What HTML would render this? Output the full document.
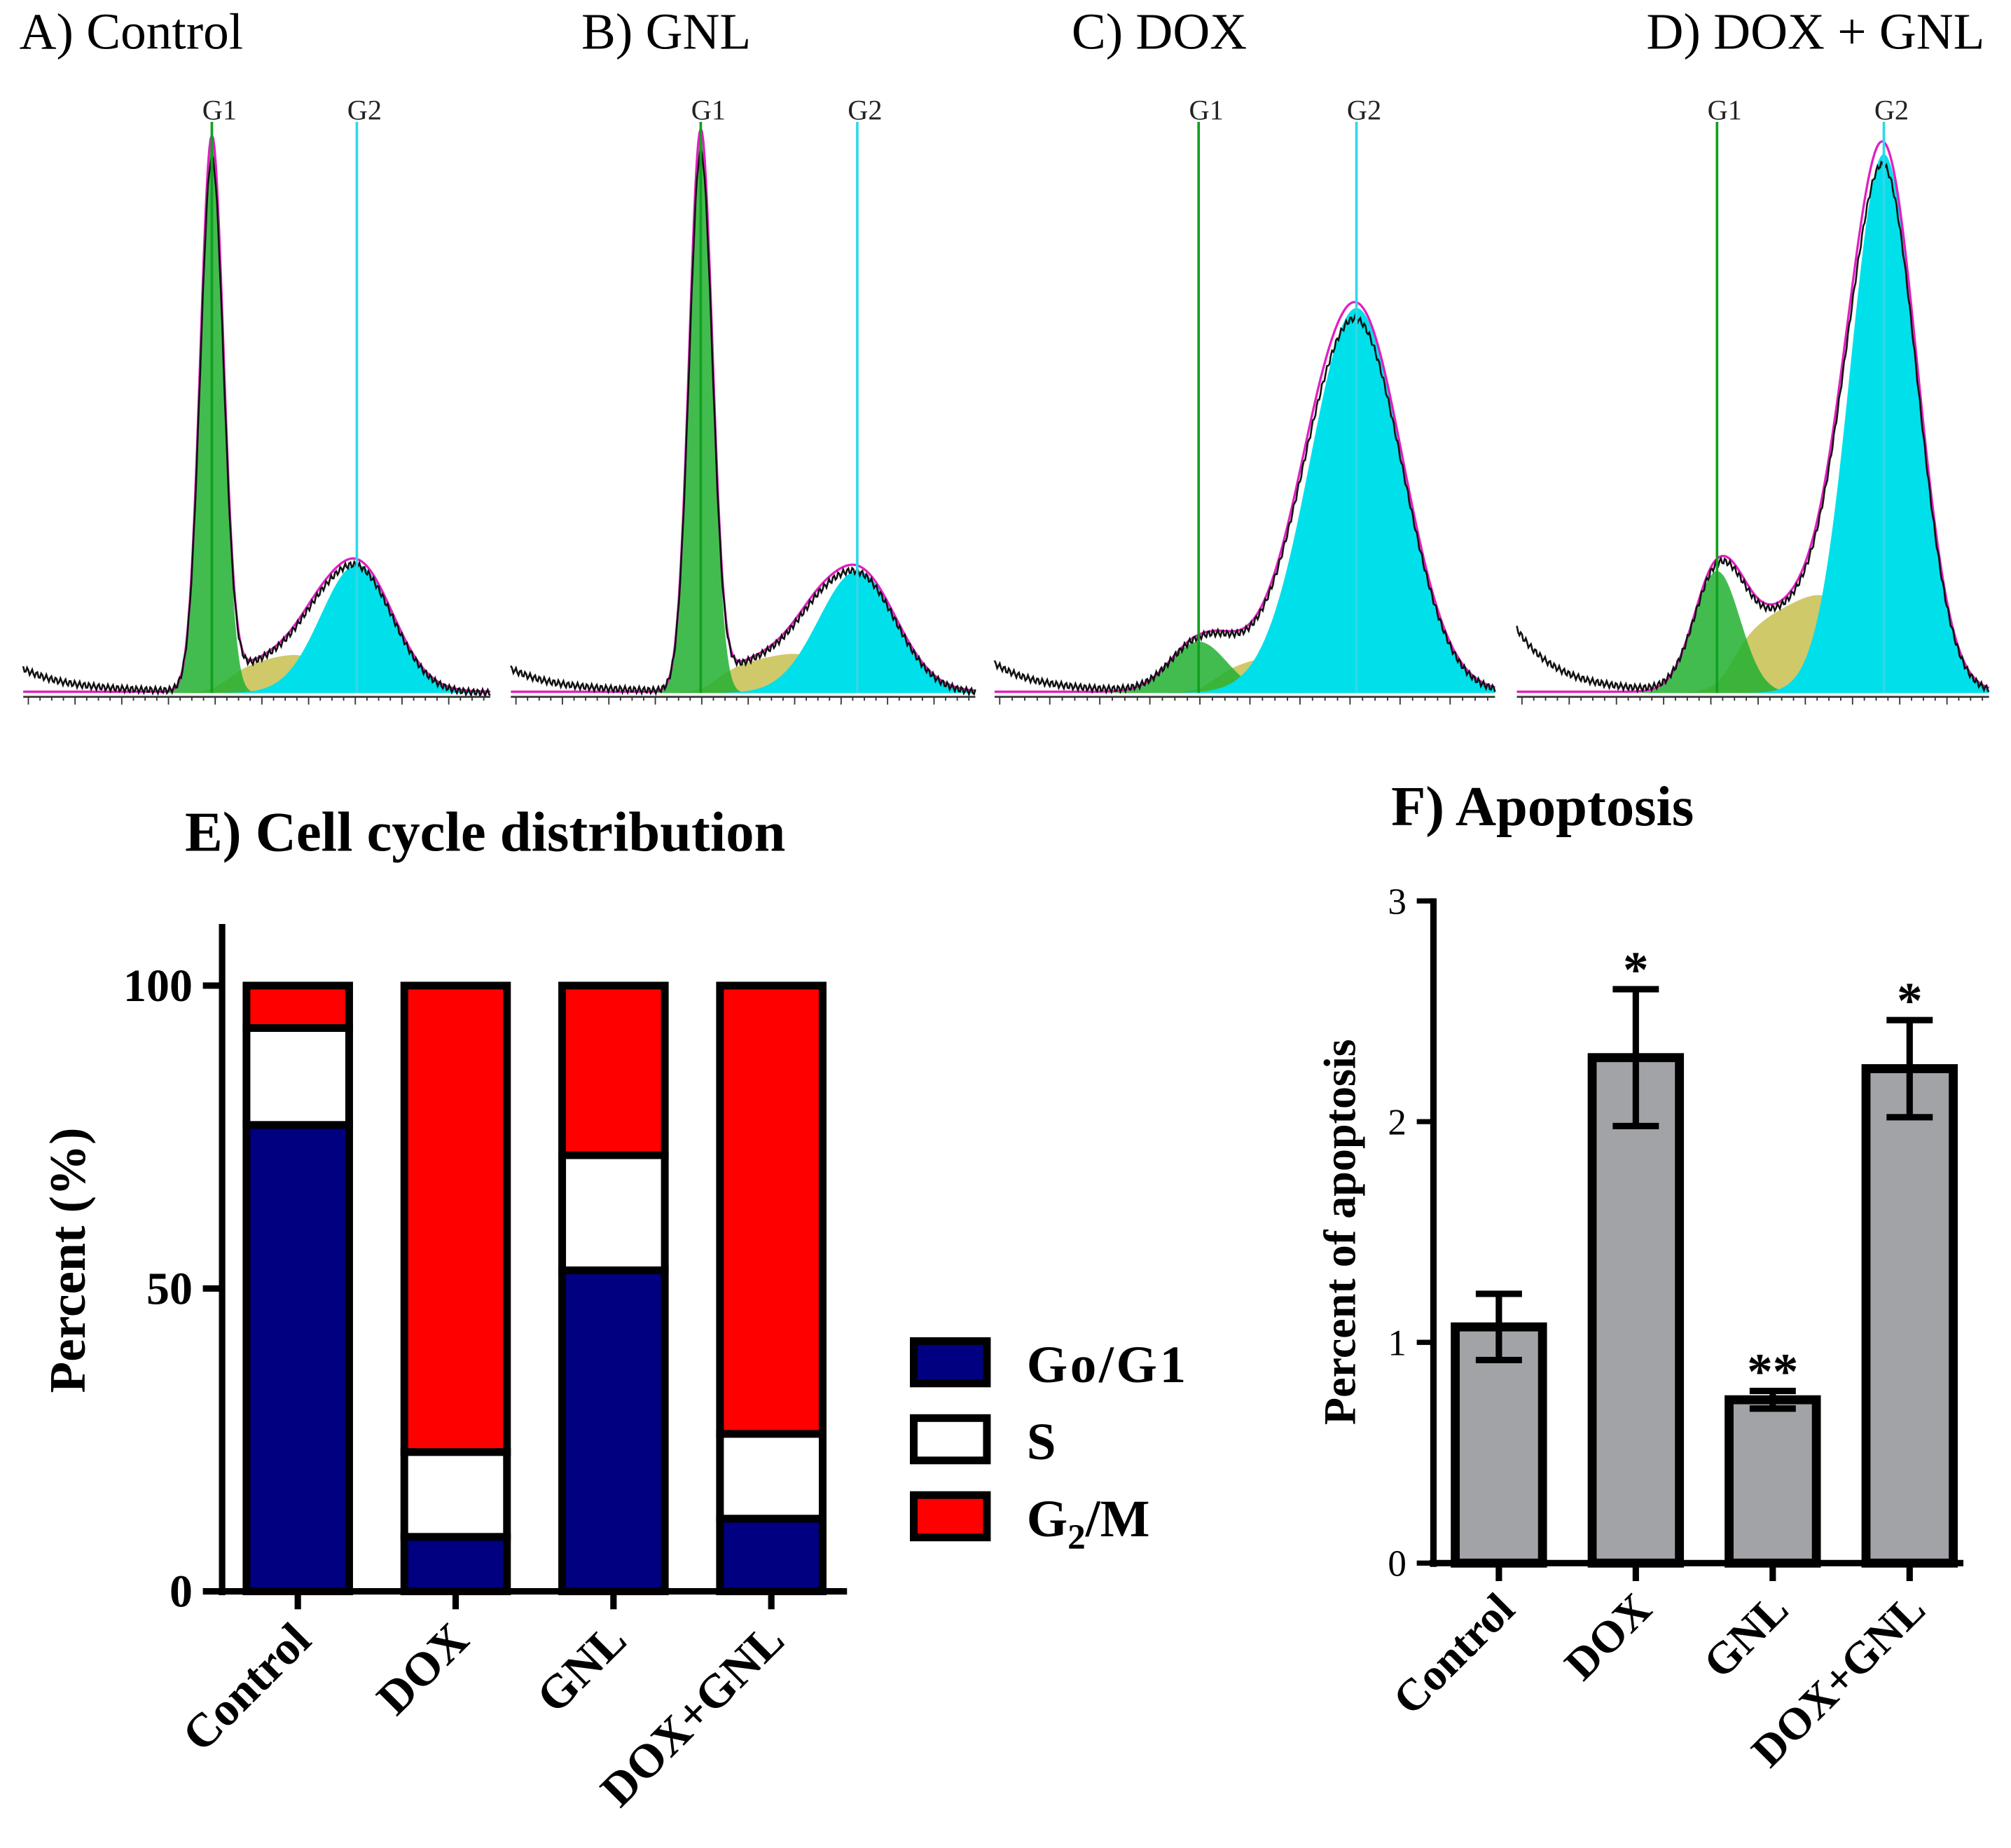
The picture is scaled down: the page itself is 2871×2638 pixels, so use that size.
<!DOCTYPE html>
<html><head><meta charset="utf-8"><style>
html,body{margin:0;padding:0;background:#fff}
svg{display:block}
text{font-family:"Liberation Serif",serif}
</style></head><body>
<svg id="fig" width="2871" height="2638" viewBox="0 0 1567 1440">
</svg>
<script>
// ---- flow histogram data (peak model params) ----
const histNames = ["A) Control","B) GNL","C) DOX","D) DOX + GNL"];
const g1Pos = [165, 546, 934, 1338];
const g1Height = [430, 435, 40, 95];
const g1Width = [9, 9, 22, 18];
const g2Pos = [278, 668, 1057, 1468];
const g2Height = [100, 95, 300, 420];
const g2Width = [28, 30, 36, 26];
const sHeight = [45, 45, 45, 110];
const debris = [14, 14, 18, 45];
// ---- E data ----
const eCats = ["Control","DOX","GNL","DOX+GNL"];
const eG1 = [77, 9, 53, 12];
const eS = [16, 14, 19, 14];
const eG2 = [7, 77, 28, 74];
const eTicks = [0, 50, 100];
// ---- F data ----
const fCats = ["Control","DOX","GNL","DOX+GNL"];
const fVals = [1.07, 2.29, 0.74, 2.24];
const fErr = [0.15, 0.31, 0.04, 0.22];
const fStars = ["", "*", "**", "*"];
const fTicks = [0, 1, 2, 3];

const svg = document.getElementById('fig');
const NS = "http://www.w3.org/2000/svg";
function mk(tag, attrs, parent){const e=document.createElementNS(NS,tag);for(const k in attrs)e.setAttribute(k,attrs[k]);(parent||svg).appendChild(e);return e;}
function txt(s, attrs, parent){const e=mk('text',attrs,parent);e.textContent=s;return e;}

// ---- histograms ----
const panelX0=[18,398,775,1182], panelX1=[382,760,1165,1550], base=540;
for(let p=0;p<4;p++){
  const g=mk('g',{});
  
  
  const x0=panelX0[p], x1=panelX1[p];
  const sig=v=>1/(1+Math.exp(-v));
  const G1=x=>g1Height[p]*Math.exp(-((x-g1Pos[p])**2)/(2*g1Width[p]**2));
  const G2=x=>g2Height[p]*Math.exp(-((x-g2Pos[p])**2)/(2*g2Width[p]**2));
  const S=x=>{const f=Math.max(0,Math.min(1,(x-g1Pos[p])/(g2Pos[p]-g1Pos[p])));return sHeight[p]*(0.35+0.65*f)*sig((x-g1Pos[p]-10)/8)*sig((g2Pos[p]-25-x)/10);};
  const D=x=>debris[p]*Math.exp(-(x-x0)/30)+5*Math.exp(-(x-x0)/100);
  const area=(f,c,op,name)=>{let d=`M${x0},${base}`;for(let x=x0;x<=x1;x+=1)d+=`L${x},${base-f(x)}`;d+=`L${x1},${base}Z`;const e=mk('path',{d,fill:c,'fill-opacity':op},g);};
  area(S,'#c8c050',0.85,'s-phase-area');
  area(x=>Math.min(S(x),G2(x))*0.9,'#40c080',0.6,'s-overlap');
  area(G1,'#22b030',0.85,'g1-area');
  area(G2,'#00e0ea',1,'g2-area');
  let dm='',db='';
  for(let x=x0;x<=x1;x+=1){const y=G1(x)+G2(x)+S(x);dm+=(x==x0?'M':'L')+x+','+(base-y-1);db+=(x==x0?'M':'L')+x+','+(base-0.96*y-D(x)+(Math.sin(x*1.7)*2.5));}
  const ml=mk('path',{d:dm,fill:'none',stroke:'#e020c0','stroke-width':1.8},g);
  
  const bl=mk('path',{d:db,fill:'none',stroke:'#111','stroke-width':1.4},g);
  
  mk('line',{x1:g1Pos[p],x2:g1Pos[p],y1:95,y2:base,stroke:'#10a020','stroke-width':2},g);
  mk('line',{x1:g2Pos[p],x2:g2Pos[p],y1:95,y2:base,stroke:'#30d8e8','stroke-width':2},g);
  txt('G1',{x:g1Pos[p]+6,y:93,'font-size':22,'text-anchor':'middle','font-family':'Liberation Sans','fill':'#222'},g);
  txt('G2',{x:g2Pos[p]+6,y:93,'font-size':22,'text-anchor':'middle','font-family':'Liberation Sans','fill':'#222'},g);
  mk('line',{x1:x0,x2:x1,y1:base+3,y2:base+3,stroke:'#333','stroke-width':1.5},g);
  for(let x=x0+4,i=0;x<=x1;x+=(x1-x0)/40,i++){mk('line',{x1:x,x2:x,y1:base+3,y2:base+(i%4==0?9:6),stroke:'#333','stroke-width':1},g);}
  const t=txt(histNames[p],{x:[15,453,835,1283][p],y:38,'font-size':40},g);
  
}

// ---- Panel E ----
const eg=mk('g',{});
const eY=v=>1240-v*4.72;
const eX=i=>232+i*123;
txt('E) Cell cycle distribution',{x:378,y:663,'font-size':44,'font-weight':'bold','text-anchor':'middle'},eg);
mk('line',{x1:173,x2:173,y1:720,y2:1243,stroke:'#000','stroke-width':5},eg);
mk('line',{x1:170,x2:660,y1:1240,y2:1240,stroke:'#000','stroke-width':5},eg);
eTicks.forEach(v=>{mk('line',{x1:158,x2:173,y1:eY(v),y2:eY(v),stroke:'#000','stroke-width':5},eg);
  const t=txt(String(v),{x:150,y:eY(v)+12,'font-size':36,'font-weight':'bold','text-anchor':'end'},eg);});
const yl=txt('Percent (%)',{x:0,y:0,'font-size':40,'font-weight':'bold','text-anchor':'middle',transform:'translate(66,982) rotate(-90)'},eg);

eCats.forEach((c,i)=>{
  const cx=eX(i),w=80;
  const segs=[[0,eG1[i],'#000080'],[eG1[i],eG1[i]+eS[i],'#fff'],[eG1[i]+eS[i],eG1[i]+eS[i]+eG2[i],'#ff0000']];
  segs.forEach((s,k)=>{const r=mk('rect',{x:cx-w/2,y:eY(s[1]),width:w,height:eY(s[0])-eY(s[1]),fill:s[2],stroke:'#000','stroke-width':6},eg);
    });
  mk('line',{x1:cx,x2:cx,y1:1240,y2:1254,stroke:'#000','stroke-width':5},eg);
  const t=txt(c,{x:0,y:0,'font-size':37,'font-weight':'bold','text-anchor':'end',transform:`translate(${cx+12},${1280}) rotate(-45)`},eg);
  
});
const leg=[['Go/G1','#000080'],['S','#fff'],['G2/M','#ff0000']];
leg.forEach((l,i)=>{const y=1045+i*60;
  const r=mk('rect',{x:712,y:y,width:57,height:33,fill:l[1],stroke:'#000','stroke-width':6},eg);
  
  if(i==2){const t=txt('G',{x:800,y:y+32,'font-size':41,'font-weight':'bold'},eg);const s=mk('tspan',{dy:10,'font-size':28},t);s.textContent='2';const s2=mk('tspan',{dy:-10},t);s2.textContent='/M';}
  else{const t=txt(l[0],{x:800,y:y+32,'font-size':41,'font-weight':'bold','letter-spacing':2},eg);}
});

// ---- Panel F ----
const fg=mk('g',{});
const fY=v=>1218-v*172;
const fX=i=>1168+i*106.7;
txt('F) Apoptosis',{x:1202,y:643,'font-size':44,'font-weight':'bold','text-anchor':'middle'},fg);
mk('line',{x1:1117,x2:1117,y1:700,y2:1221,stroke:'#000','stroke-width':5},fg);
mk('line',{x1:1114,x2:1530,y1:1218,y2:1218,stroke:'#000','stroke-width':5},fg);
fTicks.forEach(v=>{mk('line',{x1:1104,x2:1117,y1:fY(v),y2:fY(v),stroke:'#000','stroke-width':4},fg);
  const t=txt(String(v),{x:1096,y:fY(v)+10,'font-size':29,'text-anchor':'end'},fg);});
const fyl=txt('Percent of apoptosis',{x:0,y:0,'font-size':35,'font-weight':'bold','text-anchor':'middle',transform:'translate(1056,960) rotate(-90)'},fg);

fCats.forEach((c,i)=>{
  const cx=fX(i),w=68;
  const r=mk('rect',{x:cx-w/2,y:fY(fVals[i]),width:w,height:fY(0)-fY(fVals[i]),fill:'#a2a3a7',stroke:'#000','stroke-width':7},fg);
  
  const hi=fY(fVals[i]+fErr[i]),lo=fY(fVals[i]-fErr[i]);
  const e=mk('path',{d:`M${cx},${hi}L${cx},${lo}M${cx-18},${hi}L${cx+18},${hi}M${cx-18},${lo}L${cx+18},${lo}`,stroke:'#000','stroke-width':5,fill:'none'},fg);
  
  if(fStars[i]){const s=txt(fStars[i],{x:cx,y:hi-2,'font-size':40,'font-weight':'bold','text-anchor':'middle'},fg);}
  mk('line',{x1:cx,x2:cx,y1:1218,y2:1232,stroke:'#000','stroke-width':5},fg);
  const t=txt(c,{x:0,y:0,'font-size':35,'font-weight':'bold','text-anchor':'end',transform:`translate(${cx+14},${1256}) rotate(-45)`},fg);
  
});
</script>
</body></html>
